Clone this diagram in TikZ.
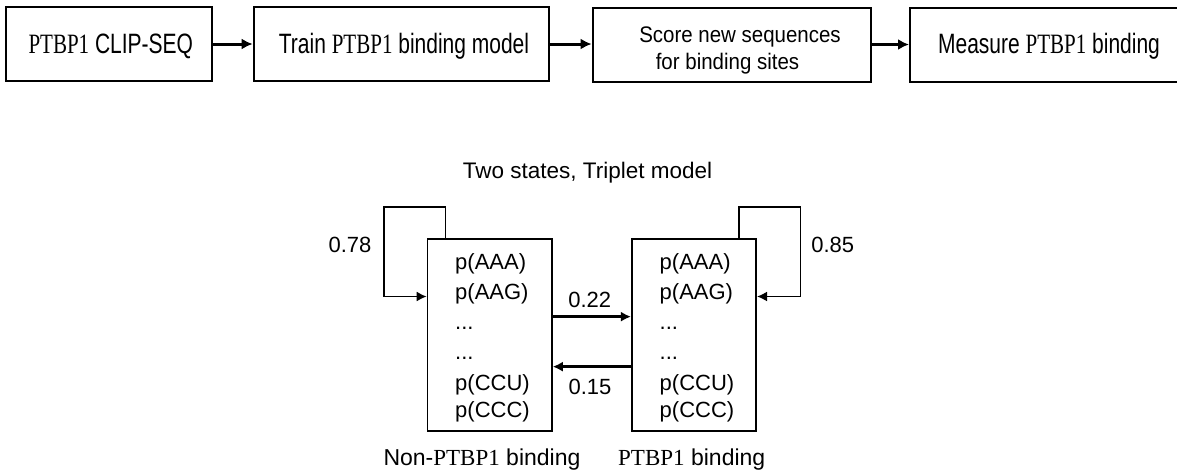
\documentclass[tikz,border=0pt]{standalone}
\usepackage{fontspec}
\setmainfont{Liberation Sans}
\newfontfamily\tmsfont{Liberation Serif}
\newfontfamily\narrowsans[FakeStretch=0.75]{Liberation Sans}
\newfontfamily\narrowserif[FakeStretch=0.75]{Liberation Serif}
\newfontfamily\semisans[FakeStretch=0.91]{Liberation Sans}
\usetikzlibrary{arrows.meta}
\newcommand{\PTB}{{\tmsfont PTBP1}}
\newcommand{\PTBn}{{\narrowserif PTBP1}}
\newcommand{\tdots}{...}
\begin{document}
\begin{tikzpicture}[x=1pt,y=-1pt,
  topbox/.style={draw,line width=2pt,inner sep=0pt,minimum height=74pt},
  statebox/.style={draw,line width=1.6pt,inner sep=0pt,minimum width=124.5pt,minimum height=192.3pt},
  toptext/.style={inner sep=0pt,anchor=base,font=\narrowsans\fontsize{28}{32}\selectfont},
  scoretext/.style={inner sep=0pt,anchor=base,font=\semisans\fontsize{22.5}{26}\selectfont},
  celltext/.style={inner sep=0pt,anchor=base west,font=\fontsize{22}{26}\selectfont},
  numtext/.style={inner sep=0pt,font=\fontsize{22}{26}\selectfont},
  captext/.style={inner sep=0pt,anchor=base west,font=\fontsize{23}{27}\selectfont},
  toparrow/.style={line width=3pt,-{Latex[length=11pt,width=11pt]}},
  arr/.style={line width=2.4pt,-{Latex[length=10pt,width=10pt]}},
  looparr/.style={line width=1.6pt,-{Latex[length=10pt,width=10pt]}}]
\clip (0,0) rectangle (1177,474);
% top pipeline
\node[topbox,minimum width=206pt] (b1) at (108.7,44) {};
\node[topbox,minimum width=295.3pt] (b2) at (401.3,44) {};
\node[topbox,minimum width=278.4pt] (b3) at (731.8,45) {};
\node[topbox,minimum width=282pt] (b4) at (1051,44.5) {};
\node[toptext] (t1) at (110.8,53.5) {\PTBn\ CLIP-SEQ};
\node[toptext] (t2) at (404,53.5) {Train \PTBn\ binding model};
\node[scoretext] (t3a) at (740,42.5) {Score new sequences};
\node[scoretext] (t3b) at (727.5,69) {for binding sites};
\node[toptext] (t4) at (1049,53.5) {Measure \PTBn\ binding};
\draw[toparrow] (b1.east) -- (b2.west);
\draw[toparrow] (b2.east) -- (b3.west |- b2.east);
\draw[toparrow] (b3.east |- b4.west) -- (b4.west);
% title
\node[inner sep=0pt,anchor=base,font=\fontsize{22.5}{27}\selectfont] (title) at (587.5,178.3) {Two states, Triplet model};
% states
\node[statebox] (L) at (489.7,334.85) {};
\node[statebox] (R) at (694,334.85) {};
\coordinate (lc) at (383.7,206.7);
\coordinate (rc) at (800.6,206.7);
\draw[looparr] ([xshift=19pt]L.north west) |- (lc) |- ([yshift=-58.6pt]L.north west);
\draw[looparr] ([xshift=-18pt]R.north east) |- (rc) |- ([yshift=-58.6pt]R.north east);
\draw[arr] ([yshift=18.2pt]L.east) -- ([yshift=18.2pt]R.west);
\draw[arr] ([yshift=-31.8pt]R.west) -- ([yshift=-31.8pt]L.east);
\node[numtext] (p78) at (350,245) {0.78};
\node[numtext] (p85) at (832.7,245) {0.85};
\node[numtext] (p22) at (589.7,300) {0.22};
\node[numtext] (p15) at (590,386.7) {0.15};
\foreach \t/\y [count=\i] in {p(AAA)/269,p(AAG)/299,\tdots/329,\tdots/359,p(CCU)/390,p(CCC)/417}{
  \node[celltext] (l\i) at (455,\y) {\t};
  \node[celltext] (r\i) at (659.5,\y) {\t};
}
\node[captext] (nl) at (383.3,465) {Non-\PTB\ binding};
\node[captext] (pl) at (618,465) {\PTB\ binding};
\end{tikzpicture}
\end{document}
